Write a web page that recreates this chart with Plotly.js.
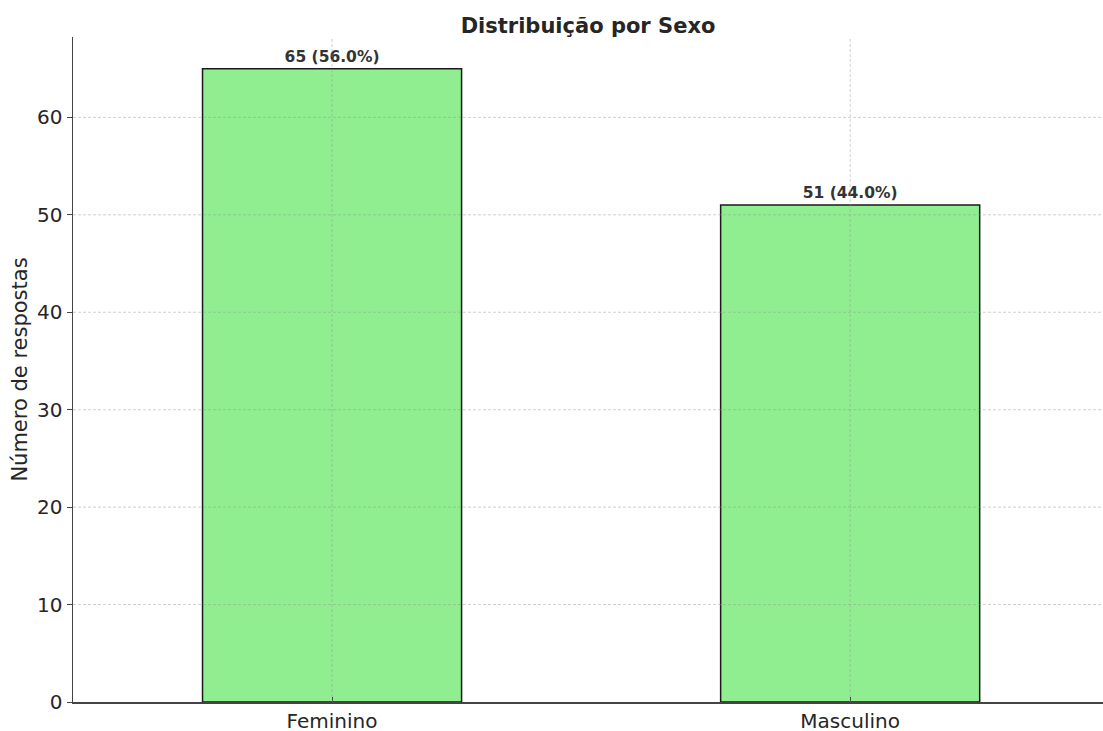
<!DOCTYPE html>
<html>
<head>
<meta charset="utf-8">
<script src="https://cdn.plot.ly/plotly-3.0.1.min.js"></script>
<style>html,body{margin:0;padding:0;background:#fff;}#chart{width:1103px;height:731px;}</style>
</head>
<body>
<div id="chart"></div>
<script>
const categories = ["Feminino", "Masculino"];
const counts = [65, 51];
const percents = [56.0, 44.0];
const yTicks = [0, 10, 20, 30, 40, 50, 60];

const labels = counts.map((c, i) => "<b>" + c + " (" + percents[i].toFixed(1) + "%)</b>");
const font = "DejaVu Sans, sans-serif";

const trace = {
  type: "bar",
  x: categories,
  y: counts,
  width: 0.5,
  marker: {color: "#90EE90", line: {color: "#1a1a1a", width: 1.5}},
  text: labels,
  textposition: "outside",
  textfont: {family: font, size: 15.5, color: "#333333"},
  cliponaxis: false,
  hoverinfo: "none"
};

const gridStyle = {color: "rgba(150,150,150,0.45)", width: 1, dash: "3px,2px"};
const shapes = [];
yTicks.filter(v => v > 0).forEach(v => shapes.push({type: "line", xref: "paper", yref: "y", x0: 0, x1: 1, y0: v, y1: v, line: gridStyle, layer: "above"}));
categories.forEach(c => shapes.push({type: "line", xref: "x", yref: "paper", x0: c, x1: c, y0: 0, y1: 1, line: gridStyle, layer: "above"}));

const layout = {
  width: 1103, height: 731,
  margin: {l: 73, r: 0, t: 37, b: 29},
  paper_bgcolor: "#ffffff",
  plot_bgcolor: "#ffffff",
  showlegend: false,
  shapes: shapes,
  title: {text: "<b>Distribuição por Sexo</b>", font: {family: font, size: 21, color: "#262626"}, x: 0.5, xanchor: "center", y: 0.965, yanchor: "middle", xref: "paper"},
  xaxis: {
    type: "category",
    range: [-0.5, 1.488],
    showgrid: false,
    showline: true, linecolor: "#444444", linewidth: 1.5,
    ticks: "inside", ticklen: 5, tickcolor: "#444444",
    tickfont: {family: font, size: 20, color: "#262626"},
    zeroline: false, fixedrange: true
  },
  yaxis: {
    range: [0, 68.25],
    tickvals: yTicks,
    showgrid: false,
    showline: true, linecolor: "#444444", linewidth: 1.5,
    ticks: "outside", ticklen: 5, tickcolor: "#444444",
    tickfont: {family: font, size: 20, color: "#262626"},
    title: {text: "Número de respostas", font: {family: font, size: 21, color: "#262626"}, standoff: 3},
    zeroline: false, fixedrange: true
  }
};

Plotly.newPlot("chart", [trace], layout, {staticPlot: true, displayModeBar: false});
</script>
</body>
</html>
